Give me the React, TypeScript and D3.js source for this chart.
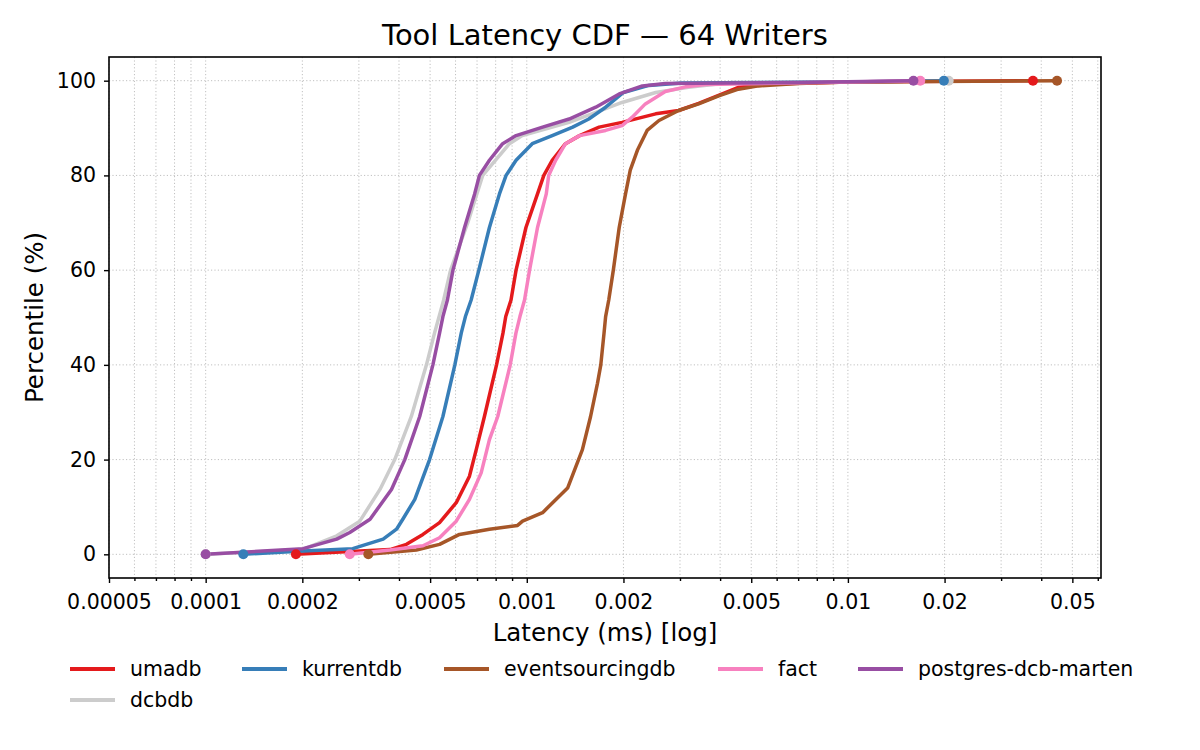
import { useEffect, useRef } from "react";
import * as d3 from "d3";

// [latency (ms), percentile]
type Point = [number, number];

const seriesNames = ["umadb", "kurrentdb", "eventsourcingdb", "fact", "postgres-dcb-marten", "dcbdb"];
const seriesColors = ["#e41a1c", "#377eb8", "#a65628", "#f781bf", "#984ea3", "#cccccc"];

const umadb: Point[] = [
  [0.000191, 0], [0.000375, 1.0], [0.000422, 2.1], [0.000475, 4.2], [0.000535, 6.7],
  [0.000603, 10.9], [0.000663, 16.5], [0.000696, 22.1], [0.000738, 29.1], [0.000805, 40],
  [0.000843, 46.7], [0.00086, 50.2], [0.000893, 53.7], [0.000926, 60], [0.000994, 69],
  [0.00108, 76.1], [0.00113, 80], [0.0012, 83.2], [0.00132, 86.7], [0.00146, 88.4],
  [0.00168, 90.2], [0.00198, 91.2], [0.00252, 93.0], [0.00297, 93.7], [0.00343, 95.2],
  [0.00456, 98.6], [0.00578, 99.3], [0.01, 99.7], [0.0377, 100],
];

const kurrentdb: Point[] = [
  [0.000131, 0], [0.000201, 0.7], [0.000287, 1.2], [0.000357, 3.2], [0.000393, 5.3],
  [0.000411, 7.4], [0.000448, 11.6], [0.000498, 20], [0.000548, 29.1], [0.000597, 40],
  [0.000625, 46.7], [0.000644, 50.2], [0.000671, 53.7], [0.000709, 60], [0.000765, 69],
  [0.000822, 76.1], [0.000862, 80], [0.000926, 83.2], [0.00104, 86.7], [0.0012, 88.4],
  [0.00139, 90.2], [0.00156, 91.9], [0.00176, 94.4], [0.002, 97.5], [0.0024, 99.0],
  [0.00304, 99.5], [0.01, 99.7], [0.0199, 100],
];

const eventsourcingdb: Point[] = [
  [0.000321, 0], [0.000453, 0.9], [0.000535, 2.1], [0.000617, 4.2], [0.000765, 5.3],
  [0.000936, 6.1], [0.00097, 7], [0.00112, 8.8], [0.00134, 14], [0.00149, 22.1],
  [0.00158, 29.1], [0.00166, 36.1], [0.0017, 40], [0.00174, 46.7], [0.00176, 50.2],
  [0.0018, 53.7], [0.00186, 60], [0.00194, 69], [0.00203, 76.1], [0.0021, 81.1],
  [0.00221, 85.3], [0.00237, 89.5], [0.00258, 91.6], [0.00297, 93.7], [0.00343, 95.1],
  [0.00396, 96.8], [0.00456, 98.2], [0.00527, 98.9], [0.007, 99.4], [0.01, 99.7],
  [0.0448, 100],
];

const fact: Point[] = [
  [0.000281, 0], [0.000375, 0.9], [0.000475, 1.8], [0.000535, 3.5], [0.000603, 7],
  [0.000663, 11.6], [0.000721, 17.2], [0.000765, 24.2], [0.000812, 29.1], [0.000888, 40],
  [0.000925, 46.7], [0.000952, 50.2], [0.000984, 53.7], [0.00102, 60], [0.00108, 69],
  [0.00115, 76.1], [0.00117, 80], [0.00123, 83.2], [0.00132, 86.7], [0.00146, 88.4],
  [0.00176, 89.5], [0.00198, 90.5], [0.00213, 92.3], [0.00234, 95.1], [0.0027, 97.7],
  [0.00312, 98.7], [0.0036, 99.2], [0.01, 99.7], [0.0168, 100],
];

const postgresDcbMarten: Point[] = [
  [0.0001, 0], [0.000201, 1.2], [0.000256, 3.2], [0.000281, 4.6], [0.000325, 7.4],
  [0.000379, 13.7], [0.000417, 20], [0.000464, 29.1], [0.00051, 40], [0.000535, 46.7],
  [0.000548, 50.2], [0.000566, 53.7], [0.000589, 60], [0.00064, 69], [0.000688, 76.1],
  [0.000712, 80], [0.000765, 83.2], [0.000841, 86.7], [0.000926, 88.4], [0.00112, 90.2],
  [0.001355, 91.9], [0.00164, 94.4], [0.00194, 97.2], [0.00229, 98.9], [0.0027, 99.4],
  [0.007, 99.6], [0.016, 100],
];

const dcbdb: Point[] = [
  [0.0001, 0], [0.0002, 1.0], [0.000256, 3.9], [0.000302, 7.0], [0.000349, 13.7],
  [0.000388, 20], [0.000437, 29.1], [0.000487, 40], [0.000516, 46.7], [0.000551, 53.7],
  [0.000579, 60], [0.000655, 70], [0.000729, 80], [0.000883, 86.7], [0.000968, 88.4],
  [0.001355, 91.2], [0.00164, 93.3], [0.00198, 95.4], [0.00252, 97.5], [0.00319, 98.6],
  [0.00434, 99.6], [0.01, 99.7], [0.0206, 100],
];

const seriesData = [umadb, kurrentdb, eventsourcingdb, fact, postgresDcbMarten, dcbdb];

const xMajorTicks = [0.00005, 0.0001, 0.0002, 0.0005, 0.001, 0.002, 0.005, 0.01, 0.02, 0.05];
const xTickLabels = ["0.00005", "0.0001", "0.0002", "0.0005", "0.001", "0.002", "0.005", "0.01", "0.02", "0.05"];
const yTicks = [0, 20, 40, 60, 80, 100];

const FONT = "DejaVu Sans, sans-serif";

export default function App() {
  const svgRef = useRef<SVGSVGElement>(null);

  useEffect(() => {
    document.body.style.margin = "0";
    if (!svgRef.current) return;
    const svg = d3.select(svgRef.current);
    svg.selectAll("*").remove();

    const W = 1200;
    const H = 750;
    const margin = { top: 57, right: 99, bottom: 172, left: 109 };
    const width = W - margin.left - margin.right;
    const height = H - margin.top - margin.bottom;

    svg.append("rect").attr("width", W).attr("height", H).attr("fill", "#ffffff");

    const g = svg.append("g").attr("transform", `translate(${margin.left},${margin.top})`);

    const x = d3.scaleLog().domain([0.00005, 0.0614]).range([0, width]);
    const y = d3.scaleLinear().domain([-5, 105]).range([height, 0]);

    const minorTicks = x.ticks().filter((t) => !xMajorTicks.some((m) => Math.abs(m - t) / m < 1e-6));

    // grid
    const grid = g.append("g").attr("stroke", "#c0c0c0").attr("stroke-width", 1).attr("stroke-dasharray", "1.2,2.2");
    grid
      .selectAll("line.vx")
      .data([...xMajorTicks, ...minorTicks])
      .join("line")
      .attr("x1", (d) => x(d))
      .attr("x2", (d) => x(d))
      .attr("y1", 0)
      .attr("y2", height);
    grid
      .selectAll("line.hy")
      .data(yTicks)
      .join("line")
      .attr("x1", 0)
      .attr("x2", width)
      .attr("y1", (d) => y(d))
      .attr("y2", (d) => y(d));

    // lines: dcbdb baseline drawn first
    const order = [5, 0, 1, 2, 3, 4];
    const line = d3
      .line<Point>()
      .x((d) => x(d[0]))
      .y((d) => y(d[1]));

    order.forEach((i) => {
      g.append("path")
        .datum(seriesData[i])
        .attr("fill", "none")
        .attr("stroke", seriesColors[i])
        .attr("stroke-width", 3.5)
        .attr("stroke-linejoin", "round")
        .attr("stroke-linecap", "butt")
        .attr("d", line);
    });

    // start / end markers
    order.forEach((i) => {
      const pts = seriesData[i];
      g.selectAll(null)
        .data([pts[0], pts[pts.length - 1]])
        .join("circle")
        .attr("cx", (d) => x(d[0]))
        .attr("cy", (d) => y(d[1]))
        .attr("r", 5)
        .attr("fill", seriesColors[i]);
    });

    // axes
    const xAxis = g
      .append("g")
      .attr("transform", `translate(0,${height})`)
      .call(
        d3
          .axisBottom(x)
          .tickValues(xMajorTicks)
          .tickFormat((_, i) => xTickLabels[i])
          .tickSize(5)
          .tickPadding(11.5)
      );
    const xMinor = g
      .append("g")
      .attr("transform", `translate(0,${height})`)
      .call(d3.axisBottom(x).tickValues(minorTicks).tickFormat(() => "").tickSize(3));
    const yAxis = g
      .append("g")
      .call(d3.axisLeft(y).tickValues(yTicks).tickSize(5).tickPadding(8));

    [xAxis, xMinor, yAxis].forEach((a) => {
      a.select(".domain").remove();
      a.selectAll("line").attr("stroke", "#000").attr("stroke-width", 1.4);
      a.selectAll("text").attr("font-family", FONT).attr("font-size", 20.5).attr("fill", "#000");
    });

    // spines
    g.append("rect")
      .attr("width", width)
      .attr("height", height)
      .attr("fill", "none")
      .attr("stroke", "#000")
      .attr("stroke-width", 1.6);

    // title and labels
    svg
      .append("text")
      .attr("x", margin.left + width / 2)
      .attr("y", 45)
      .attr("text-anchor", "middle")
      .attr("font-family", FONT)
      .attr("font-size", 29)
      .text("Tool Latency CDF — 64 Writers");

    svg
      .append("text")
      .attr("x", margin.left + width / 2)
      .attr("y", 641)
      .attr("text-anchor", "middle")
      .attr("font-family", FONT)
      .attr("font-size", 24.5)
      .text("Latency (ms) [log]");

    svg
      .append("text")
      .attr("transform", `translate(43,${margin.top + height / 2}) rotate(-90)`)
      .attr("text-anchor", "middle")
      .attr("font-family", FONT)
      .attr("font-size", 24.5)
      .text("Percentile (%)");

    // legend
    const legendX = [70, 242, 444, 718, 858, 70];
    const legendY = [669, 669, 669, 669, 669, 700];
    const legend = svg.append("g");
    seriesNames.forEach((name, i) => {
      legend
        .append("line")
        .attr("x1", legendX[i])
        .attr("x2", legendX[i] + 45)
        .attr("y1", legendY[i])
        .attr("y2", legendY[i])
        .attr("stroke", seriesColors[i])
        .attr("stroke-width", 4);
      legend
        .append("text")
        .attr("x", legendX[i] + 60)
        .attr("y", legendY[i] + 7.3)
        .attr("font-family", FONT)
        .attr("font-size", 20.5)
        .text(name);
    });
  }, []);

  return <svg ref={svgRef} width={1200} height={750} style={{ display: "block" }} />;
}
